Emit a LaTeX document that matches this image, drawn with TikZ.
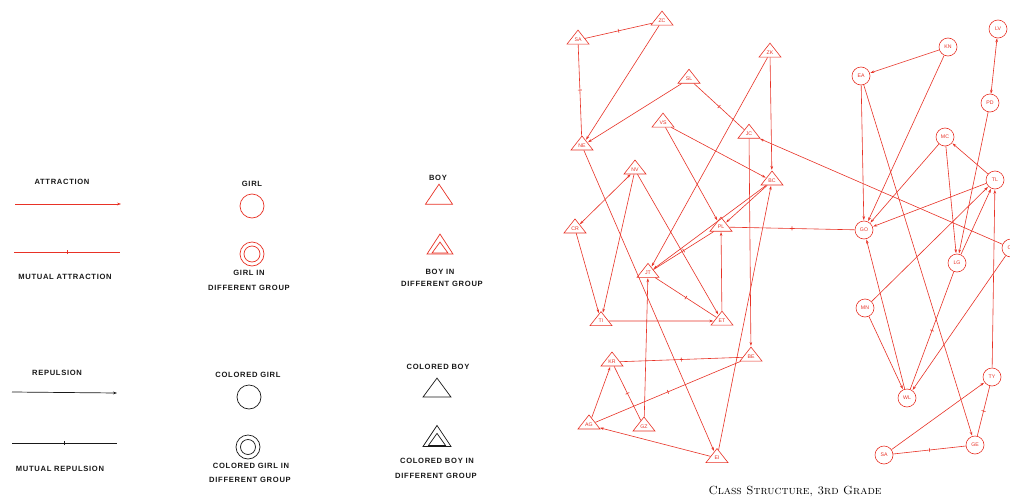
\documentclass[tikz,border=0pt]{standalone}
\usepackage{fontspec}
\newfontfamily\legfont[LetterSpace=9]{Liberation Sans}
\newfontfamily\lblfont{Liberation Sans}
\usetikzlibrary{shapes.geometric,arrows.meta,decorations.markings}
\definecolor{pen}{RGB}{232,50,38}
\definecolor{ink}{RGB}{25,25,25}
\begin{document}
\begin{tikzpicture}[x=1pt,y=-1pt,
  att/.style={draw=pen, line width=0.6pt, -{Stealth[length=4pt,width=2.6pt]}, shorten >=0.5pt},
  both/.style={draw=pen, line width=0.6pt, {Stealth[length=4pt,width=2.6pt]}-{Stealth[length=4pt,width=2.6pt]}},
  mut/.style={draw=pen, line width=0.6pt, postaction={decorate},
    decoration={markings, mark=at position 0.5 with {\draw[pen,line width=0.6pt] (0,-2pt) -- (0,2pt);}}},
  girl/.style={circle, draw=pen, line width=0.6pt, minimum size=18pt, inner sep=0pt,
    font={\lblfont\fontsize{5.2pt}{6pt}\selectfont}, text=pen},
  boy/.style={isosceles triangle, isosceles triangle stretches, shape border rotate=90, draw=pen,
    line width=0.6pt, minimum width=22pt, minimum height=14pt, inner sep=0pt,
    font={\lblfont\fontsize{5.2pt}{6pt}\selectfont}, text=pen},
  leg/.style={font={\legfont\bfseries\fontsize{7.6pt}{8pt}\selectfont}, text=ink, inner sep=0pt},
  lcirc/.style={circle, line width=0.7pt, inner sep=0pt},
  ltri/.style={isosceles triangle, isosceles triangle stretches, shape border rotate=90,
    line width=0.7pt, inner sep=0pt},
  larr/.style={line width=0.7pt, -{Stealth[length=4pt,width=2.8pt]}},
  lmut/.style={line width=0.7pt, postaction={decorate},
    decoration={markings, mark=at position 0.5 with {\draw[line width=0.7pt] (0,-2pt) -- (0,2pt);}}},
  ]
\useasboundingbox (0,0) rectangle (1010,498);
\fill[white] (0,0) rectangle (1010,498);

% ---------------- legend ----------------
\node[leg] (tAtt) at (62,182) {ATTRACTION};
\coordinate (a1) at (15,204); \coordinate (a2) at (121,204);
\draw[larr,pen] (a1) -- (a2);
\coordinate (m1) at (14,252); \coordinate (m2) at (120,252);
\draw[lmut,pen] (m1) -- (m2);
\node[leg] (tMA) at (65,277) {MUTUAL ATTRACTION};

\node[leg] (tGirl) at (252,184) {GIRL};
\node[lcirc,draw=pen,minimum size=24pt] (lG1) at (252,206) {};
\node[lcirc,draw=pen,minimum size=24pt] (lG2o) at (252,254) {};
\node[lcirc,draw=pen,minimum size=16pt] (lG2i) at (252,254) {};
\node[leg] (tGI1) at (249,273) {GIRL IN};
\node[leg] (tGI2) at (249,288) {DIFFERENT GROUP};

\node[leg] (tBoy) at (438,178) {BOY};
\node[ltri,draw=pen,minimum width=27pt,minimum height=20pt] (lB1) at (439,197) {};
\node[ltri,draw=pen,minimum width=26pt,minimum height=20pt] (lB2o) at (440,247) {};
\node[ltri,draw=pen,minimum width=16pt,minimum height=11pt] (lB2i) at (440,249) {};
\node[leg] (tBI1) at (440,272) {BOY IN};
\node[leg] (tBI2) at (442,284) {DIFFERENT GROUP};

\node[leg] (tRep) at (57,373) {REPULSION};
\coordinate (r1) at (12,392); \coordinate (r2) at (117,393);
\draw[larr,ink] (r1) -- (r2);
\coordinate (n1) at (12,443); \coordinate (n2) at (117,443);
\draw[lmut,ink] (n1) -- (n2);
\node[leg] (tMR) at (60,469) {MUTUAL REPULSION};

\node[leg] (tCG) at (248,375) {COLORED GIRL};
\node[lcirc,draw=ink,minimum size=24pt] (lC1) at (249,397) {};
\node[lcirc,draw=ink,minimum size=24pt] (lC2o) at (248,447) {};
\node[lcirc,draw=ink,minimum size=15pt] (lC2i) at (248,447) {};
\node[leg] (tCGI1) at (251,466) {COLORED GIRL IN};
\node[leg] (tCGI2) at (250,480) {DIFFERENT GROUP};

\node[leg] (tCB) at (438,367) {COLORED BOY};
\node[ltri,draw=ink,minimum width=28pt,minimum height=19pt] (lD1) at (437,390) {};
\node[ltri,draw=ink,minimum width=28pt,minimum height=21pt] (lD2o) at (437,439) {};
\node[ltri,draw=ink,minimum width=17pt,minimum height=12pt] (lD2i) at (437,441) {};
\node[leg] (tCBI1) at (437,461) {COLORED BOY IN};
\node[leg] (tCBI2) at (436,476) {DIFFERENT GROUP};

% ---------------- boys ----------------
\node[boy] (SA) at (578,40) {SA};
\node[boy] (ZC) at (662,21) {ZC};
\node[boy] (NE) at (582,146) {NE};
\node[boy] (SL) at (689,79) {SL};
\node[boy] (VS) at (663,123) {VS};
\node[boy] (ZK) at (770,53) {ZK};
\node[boy] (JC) at (749,134) {JC};
\node[boy] (BC) at (772,181) {BC};
\node[boy] (NV) at (635,170) {NV};
\node[boy] (CR) at (575,229) {CR};
\node[boy] (PL) at (721,227) {PL};
\node[boy] (JT) at (648,273) {JT};
\node[boy] (TI) at (601,321) {TI};
\node[boy] (ET) at (722,321) {ET};
\node[boy] (KR) at (612,362) {KR};
\node[boy] (BE) at (751,357) {BE};
\node[boy] (AG) at (589,425) {AG};
\node[boy] (GZ) at (644,427) {GZ};
\node[boy] (EI) at (717,458) {EI};

% ---------------- girls ----------------
\node[girl] (LV) at (998,29) {LV};
\node[girl] (KN) at (948,47) {KN};
\node[girl] (EA) at (861,76) {EA};
\node[girl] (PD) at (990,103) {PD};
\node[girl] (MC) at (945,137) {MC};
\node[girl] (TL) at (995,180) {TL};
\node[girl] (GO) at (864,230) {GO};
\node[girl] (LG) at (957,263) {LG};
\node[girl] (MN) at (865,308) {MN};
\node[girl] (WL) at (907,398) {WL};
\node[girl] (TY) at (992,377) {TY};
\node[girl] (SAc) at (884,455) {SA};
\node[girl] (GE) at (975,445) {GE};
\node[girl] (Cx) at (1011,248) {C\hphantom{L}};

% ---------------- connectors, left group ----------------
\draw[mut] (SA) -- (ZC);
\draw[mut] (SA) -- (NE);
\draw[att] (ZC) -- (NE);
\draw[att] (SL) -- (NE);
\draw[att] (NE) -- (EI);
\draw[mut] (SL) -- (JC);
\draw[att] (ZK) -- (BC);
\draw[att] (ZK) -- (JT);
\draw[att] (VS) -- (BC);
\draw[att] (VS) -- (PL);
\draw[att] (JC) -- (BE);
\draw[att] (Cx) -- (JC);
\draw[att] (BC) -- (JT);
\draw[att] (BC) -- (PL);
\draw[mut] (PL) -- (GO);
\draw[both] (CR) -- (NV);
\draw[att] (CR) -- (TI);
\draw[att] (NV) -- (TI);
\draw[att] (TI) -- (ET);
\draw[att] (NV) -- (ET);
\draw[mut] (JT) -- (ET);
\draw[att] (ET) -- (PL);
\draw[mut] (PL) -- (JT);
\draw[att] (GZ) -- (JT);
\draw[att] (EI) -- (BC);
\draw[mut] (KR) -- (BE);
\draw[mut] (AG) -- (BE);
\draw[att] (AG) -- (KR);
\draw[mut] (KR) -- (GZ);
\draw[att] (EI) -- (AG);

% ---------------- connectors, right group ----------------
\draw[both] (PD) -- (LV);
\draw[att] (KN) -- (EA);
\draw[att] (KN) -- (GO);
\draw[att] (EA) -- (GO);
\draw[att] (EA) -- (GE);
\draw[att] (PD) -- (LG);
\draw[att] (MC) -- (LG);
\draw[att] (TL) -- (MC);
\draw[att] (MC) -- (GO);
\draw[att] (TL) -- (GO);
\draw[att] (MN) -- (TL);
\draw[att] (LG) -- (TL);
\draw[att] (TY) -- (TL);
\draw[mut] (LG) -- (WL);
\draw[att] (Cx) -- (WL);
\draw[att] (MN) -- (WL);
\draw[att] (WL) -- (GO);
\draw[att] (SAc) -- (TY);
\draw[mut] (SAc) -- (GE);
\draw[mut] (GE) -- (TY);

% ---------------- caption ----------------
\node[font=\fontsize{11.8pt}{13pt}\selectfont, inner sep=0pt] (cap) at (795,491) {\textsc{Class Structure, 3rd Grade}};
\end{tikzpicture}
\end{document}
